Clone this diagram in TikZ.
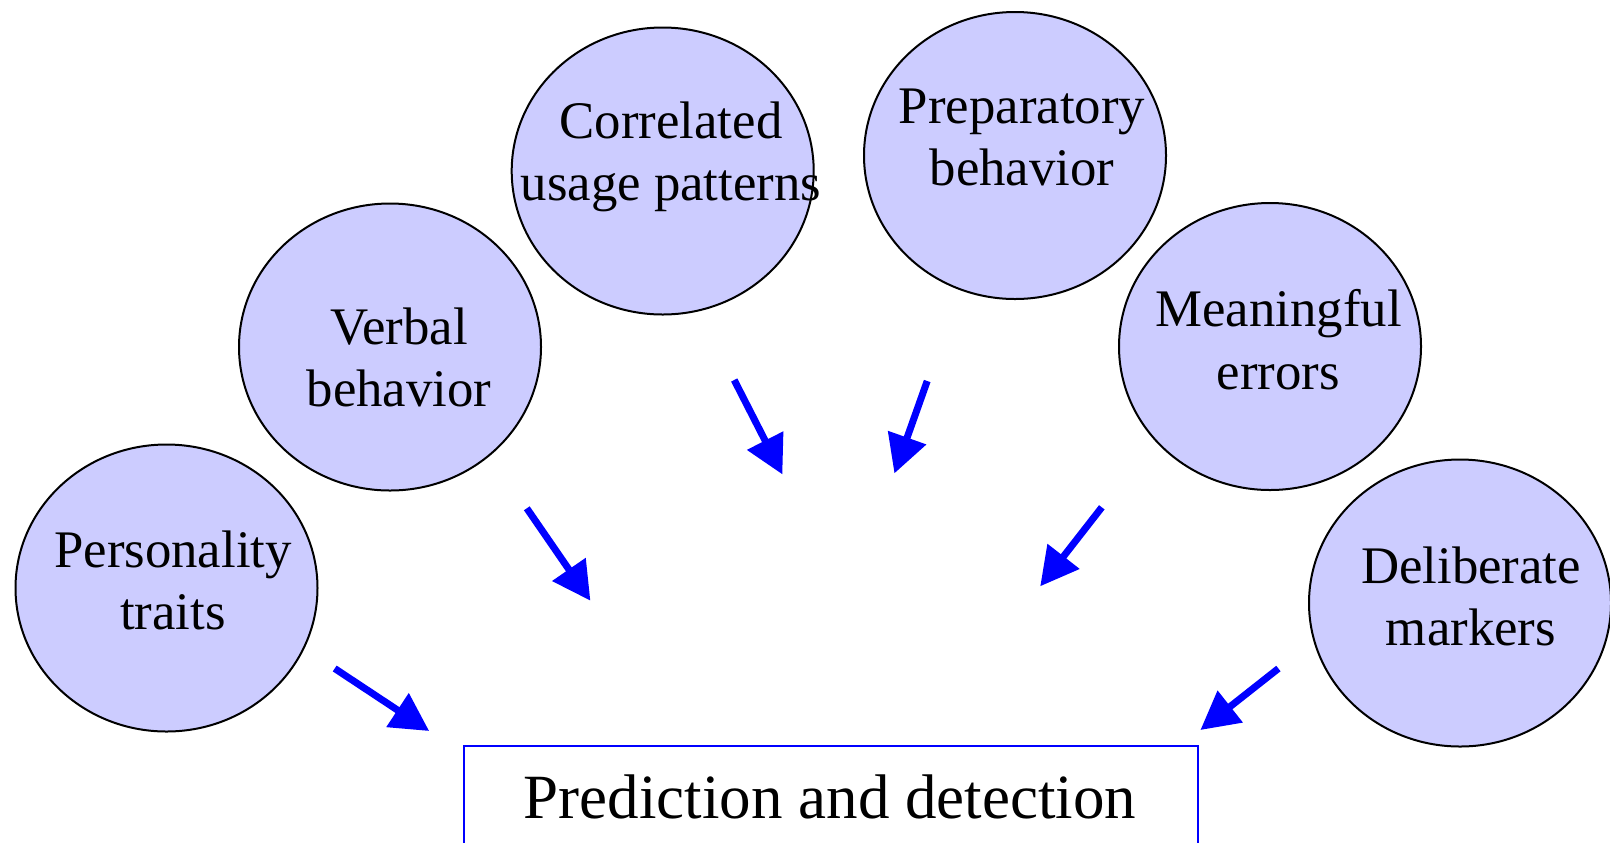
\documentclass[tikz,border=0pt]{standalone}
\usepackage{fontspec}
\setmainfont{Liberation Serif}
\usetikzlibrary{shapes.geometric,arrows.meta}
\definecolor{bubblefill}{RGB}{204,204,255}
\definecolor{arrowblue}{RGB}{0,0,255}
\begin{document}
\begin{tikzpicture}[x=0.5pt,y=-0.5pt,
  bubble/.style={ellipse, draw=black, line width=1pt, fill=bubblefill,
    minimum width=151pt, minimum height=143.5pt, inner sep=0pt},
  lbl/.style={anchor=base, inner sep=0pt, font=\fontsize{26.4}{30}\selectfont},
  arr/.style={draw=arrowblue, line width=3.5pt, -{Triangle[length=19pt,width=19.5pt]}},
  resultbox/.style={draw=arrowblue, line width=1.2pt, fill=white, minimum width=367pt,
    minimum height=80pt, inner sep=0pt, anchor=north}
]
\useasboundingbox (0,0) rectangle (1610,842);
\clip (0,0) rectangle (1610,842);
\fill[white] (0,0) rectangle (1610,842);

% bubbles
\node[bubble] (e1) at (166.5,588) {};
\node[bubble] (e2) at (390,347) {};
\node[bubble] (e3) at (662.7,171) {};
\node[bubble] (e4) at (1015,155.5) {};
\node[bubble] (e5) at (1270,346.5) {};
\node[bubble] (e6) at (1460,603) {};

% labels
\node[lbl] (t1a) at (173,567) {Personality};
\node[lbl] (t1b) at (173,629) {traits};
\node[lbl] (t2a) at (399,344) {Verbal};
\node[lbl] (t2b) at (399,406.5) {behavior};
\node[lbl] (t3a) at (671,138.6) {Correlated};
\node[lbl] (t3b) at (671,200) {usage patterns};
\node[lbl] (t4a) at (1022,123) {Preparatory};
\node[lbl] (t4b) at (1022,185) {behavior};
\node[lbl] (t5a) at (1278.5,326.5) {Meaningful};
\node[lbl] (t5b) at (1278.5,389) {errors};
\node[lbl] (t6a) at (1471,583) {Deliberate};
\node[lbl] (t6b) at (1471,645) {markers};

% result box
\node[resultbox] (box) at (831,744.5) {};
\node[anchor=base, inner sep=0pt, font=\fontsize{31.5}{36}\selectfont] (pd) at (830,818.5) {Prediction and detection};

% arrows
\coordinate (a1s) at (334.7,668.5); \coordinate (a1e) at (429.2,731);
\coordinate (a2s) at (526.8,508.3); \coordinate (a2e) at (590.4,600.7);
\coordinate (a3s) at (734.2,380);   \coordinate (a3e) at (782.4,474.4);
\coordinate (a4s) at (927.2,381);   \coordinate (a4e) at (894.4,473.4);
\coordinate (a5s) at (1101.8,507.3);\coordinate (a5e) at (1040.2,586.3);
\coordinate (a6s) at (1278.4,668.5);\coordinate (a6e) at (1200.4,730);
\draw[arr] (a1s) -- (a1e);
\draw[arr] (a2s) -- (a2e);
\draw[arr] (a3s) -- (a3e);
\draw[arr] (a4s) -- (a4e);
\draw[arr] (a5s) -- (a5e);
\draw[arr] (a6s) -- (a6e);
\end{tikzpicture}
\end{document}
